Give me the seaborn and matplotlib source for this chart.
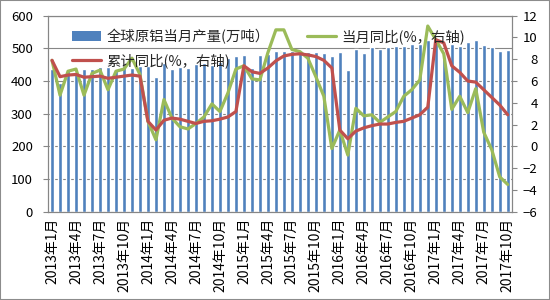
import matplotlib
matplotlib.use("Agg")
import matplotlib.pyplot as plt
import seaborn as sns
import numpy as np
import pandas as pd
from matplotlib.patches import Rectangle, Patch
from matplotlib.lines import Line2D
from matplotlib.ticker import MultipleLocator

# ---------------- data ----------------
years = [2013, 2014, 2015, 2016, 2017]
month_nums = list(range(1, 13))
months = [f"{y}年{m}月" for y in years for m in month_nums][:58]

# 全球原铝当月产量 (万吨)
output = [436, 395, 434, 428, 436, 436, 444, 444, 434, 446, 439, 446,
          446, 411, 455, 437, 444, 440, 452, 456, 449, 459, 470, 477,
          480, 440, 480, 482, 493, 491, 491, 493, 489, 490, 486, 477,
          490, 434, 498, 487, 504, 499, 504, 508, 507, 513, 513, 526,
          525, 471, 512, 508, 518, 526, 510, 504, 493, 495]

# 当月同比 (%, 右轴)
yoy = [7.9, 4.7, 6.9, 7.1, 4.7, 6.7, 7.0, 5.2, 6.9, 7.1, 8.1, 6.6,
       2.3, 0.6, 4.3, 2.6, 1.8, 1.6, 2.1, 2.7, 3.9, 3.2, 4.9, 7.1,
       7.4, 6.2, 6.1, 8.6, 10.7, 10.7, 8.9, 8.7, 8.1, 6.4, 4.6, -0.2,
       1.5, -0.8, 3.5, 2.8, 2.9, 2.2, 2.7, 3.2, 4.6, 5.2, 6.1, 11.05,
       9.8, 8.5, 3.4, 4.6, 3.1, 5.3, 1.3, -0.3, -2.8, -3.5]

# 累计同比 (%, 右轴)
cum = [7.9, 6.4, 6.55, 6.6, 6.35, 6.4, 6.45, 6.25, 6.35, 6.45, 6.55, 6.45,
       2.3, 1.5, 2.4, 2.6, 2.5, 2.3, 2.1, 2.3, 2.35, 2.5, 2.7, 3.2,
       7.4, 6.85, 6.7, 7.2, 7.85, 8.3, 8.45, 8.5, 8.4, 8.25, 7.9, 7.2,
       1.5, 0.7, 1.4, 1.7, 1.9, 2.05, 2.05, 2.2, 2.3, 2.6, 2.9, 3.6,
       9.8, 9.5, 7.4, 6.8, 6.0, 5.9, 5.2, 4.5, 3.8, 2.9]

label_bar = "全球原铝当月产量(万吨）"
label_yoy = "当月同比(%，右轴)"
label_cum = "累计同比(%，右轴)"

BLUE = "#4F81BD"
GREEN = "#9BBB59"
RED = "#C0504D"
GRID = "#868686"

# ---------------- style ----------------
sns.set_style("white")
plt.rcParams["font.family"] = ["Noto Sans CJK SC", "DejaVu Sans"]

fig = plt.figure(figsize=(5.5, 3), dpi=100)
ax = fig.add_axes([0.0873, 0.2943, 0.9304 - 0.0873, 0.9477 - 0.2943])

df = pd.DataFrame({"month": months, "output": output, "yoy": yoy, "cum": cum})
df["pos"] = np.arange(len(df))

sns.barplot(data=df, x="month", y="output", color=BLUE, saturation=1,
            width=0.52, ax=ax, zorder=2)

ax2 = ax.twinx()
sns.lineplot(data=df, x="pos", y="yoy", ax=ax2, color=GREEN, lw=2.3,
             legend=False, zorder=3)
sns.lineplot(data=df, x="pos", y="cum", ax=ax2, color=RED, lw=2.3,
             legend=False, zorder=4)

ax.set_xlim(-0.5, len(df) - 0.5)
ax2.set_xlim(-0.5, len(df) - 0.5)
ax.set_ylim(0, 600)
ax2.set_ylim(-6, 12)
ax.yaxis.set_major_locator(MultipleLocator(100))
ax2.yaxis.set_major_locator(MultipleLocator(2))

ax.grid(axis="y", color=GRID, lw=0.8)
ax.set_axisbelow(True)
for a in (ax, ax2):
    a.set_xlabel("")
    a.set_ylabel("")

ticks = list(range(0, len(df), 3))
ax.set_xticks(ticks)
ax.set_xticklabels([months[i] for i in ticks], rotation=90, fontsize=10)
ax.set_xticks(np.arange(-0.5, len(df), 3), minor=True)
ax.tick_params(axis="x", which="major", length=0, pad=4.5, colors="black")
ax.tick_params(axis="x", which="minor", length=4, width=0.8, color=GRID,
               direction="out")
ax.tick_params(axis="y", which="major", length=3.5, width=0.8, color=GRID,
               direction="out", pad=7.3, labelsize=9.5, labelcolor="black")
ax2.tick_params(axis="y", which="major", length=3.5, width=0.8, color=GRID,
                direction="out", pad=15.2, labelsize=9.5, labelcolor="black")
for lbl in ax2.get_yticklabels():
    lbl.set_horizontalalignment("right")

for a in (ax, ax2):
    for s in a.spines.values():
        s.set_color(GRID)
        s.set_linewidth(0.8)

# size the legend text so the long label is ~163 px wide, as in the reference
renderer = fig.canvas.get_renderer()
probe = fig.text(0, 0, label_bar, fontsize=10)
w = probe.get_window_extent(renderer).width
probe.remove()
leg_fs = 10 * 163.0 / w

top_y = 1 - 29 / 300
common = dict(loc="upper left", frameon=False, fontsize=leg_fs,
              handlelength=2.0, handletextpad=0.4, labelspacing=0.65,
              borderpad=0, borderaxespad=0)
leg1 = fig.legend([Patch(facecolor=BLUE, edgecolor="none"),
                   Line2D([], [], color=RED, lw=2.3)],
                  [label_bar, label_cum],
                  bbox_to_anchor=(72 / 550, top_y), **common)
leg2 = fig.legend([Line2D([], [], color=GREEN, lw=2.3)], [label_yoy],
                  bbox_to_anchor=(307 / 550, top_y), **common)

fig.patches.append(Rectangle((0, 0), 1, 1, transform=fig.transFigure,
                             fill=False, edgecolor="#8c8c8c", lw=1.5))

fig.savefig("out.png", dpi=100)
